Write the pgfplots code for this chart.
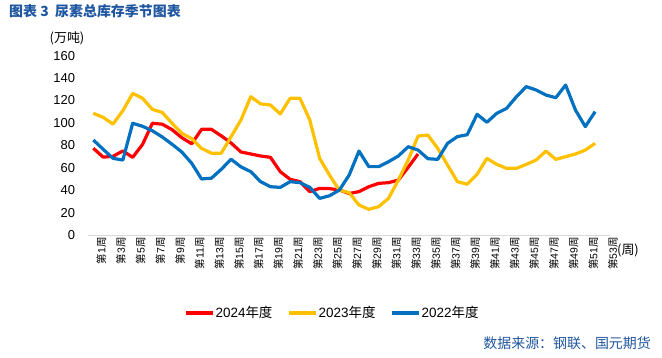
\documentclass[border=0pt]{standalone}
\usepackage{fontspec}
\setmainfont{Liberation Sans}
\newfontfamily\cjk{Noto Sans CJK SC}
\usepackage{pgfplots}
\pgfplotsset{compat=1.18}
\definecolor{c24}{RGB}{255,0,0}
\definecolor{c23}{RGB}{255,192,0}
\definecolor{c22}{RGB}{0,112,192}
\definecolor{ttl}{RGB}{31,86,160}
\newcommand{\wk}[1]{{\cjk 第}#1{\cjk 周}}
\begin{document}
\begin{tikzpicture}[x=1bp,y=1bp]
\useasboundingbox (0,0) rectangle (662,357);
\node[anchor=west, font=\cjk\bfseries\fontsize{14}{16}\selectfont, text=ttl, inner sep=0] at (9,346) {图表 3\ \ 尿素总库存季节图表};
\node[font=\cjk\fontsize{13}{15}\selectfont, inner sep=0] at (67,319) {(万吨)};
\node[font=\cjk\fontsize{13}{15}\selectfont, inner sep=0] at (628,107) {(周)};
\node[anchor=east, font=\cjk\fontsize{14}{16}\selectfont, text=ttl, inner sep=0] at (651,14) {数据来源：钢联、国元期货};
\begin{axis}[
  at={(88.4bp,122bp)}, anchor=south west, scale only axis,
  width=521.5bp, height=179.3bp,
  xmin=0.5, xmax=53.5, ymin=0, ymax=160,
  enlargelimits=false,
  axis lines=left,
  x axis line style={draw=black!15, line width=1pt, -},
  y axis line style={draw=none},
  tick style={draw=none},
  ytick={0,20,...,160},
  xtick={1,3,...,53},
  xticklabels={\wk{1},\wk{3},\wk{5},\wk{7},\wk{9},\wk{11},\wk{13},\wk{15},\wk{17},\wk{19},\wk{21},\wk{23},\wk{25},\wk{27},\wk{29},\wk{31},\wk{33},\wk{35},\wk{37},\wk{39},\wk{41},\wk{43},\wk{45},\wk{47},\wk{49},\wk{51},\wk{53}},
  /pgf/number format/assume math mode=true,
  yticklabel style={font=\fontsize{13}{15}\selectfont, anchor=east, inner sep=0pt, xshift=-11bp},
  xticklabel style={font=\fontsize{10.5}{12}\selectfont, rotate=90, anchor=east, inner sep=0pt, yshift=-8bp},
  clip=false,
  legend columns=3,
  legend style={at={(0.467,-0.435)}, anchor=center, draw=none, fill=none,
    font=\fontsize{13.5}{15}\selectfont, column sep=0bp,
    nodes={inner xsep=1.5bp},
    /tikz/every even column/.append style={column sep=13bp}},
  legend image code/.code={\draw[#1, line width=3.2bp] (0,0) -- (27bp,0);},
  every axis plot/.append style={line width=3.2bp, line join=round, no markers},
]
\addplot[c24] coordinates {(1,77.4)(2,69.5)(3,70.2)(4,75)(5,69.3)(6,80.8)(7,99.7)(8,98.9)(9,94)(10,86.8)(11,81.4)(12,94.3)(13,94.3)(14,88.5)(15,82.1)(16,74.1)(17,72.3)(18,70.5)(19,69.3)(20,56.5)(21,49.7)(22,47.6)(23,38.7)(24,41.6)(25,41.4)(26,40.2)(27,37)(28,38.7)(29,43.1)(30,46.1)(31,46.7)(32,49)(33,60.4)(34,72.3)};
\addlegendentry{2024{\cjk 年度}}
\addplot[c23] coordinates {(1,108.6)(2,105)(3,99)(4,110.9)(5,126.4)(6,122)(7,112.1)(8,109.4)(9,99.7)(10,90.7)(11,86)(12,77.3)(13,73)(14,73)(15,87.7)(16,102.6)(17,123.4)(18,117)(19,116)(20,108)(21,122)(22,122)(23,102.6)(24,68.4)(25,53.5)(26,40)(27,37.8)(28,26.8)(29,22.9)(30,25.3)(31,32.7)(32,49)(33,66.9)(34,88.3)(35,89.2)(36,77.3)(37,62.4)(38,47.6)(39,45.3)(40,54.1)(41,68.4)(42,63)(43,59.5)(44,59.5)(45,63)(46,66.9)(47,74.9)(48,67.5)(49,69.9)(50,72.3)(51,75.8)(52,81.8)};
\addlegendentry{2023{\cjk 年度}}
\addplot[c22] coordinates {(1,84.8)(2,76.5)(3,68.4)(4,66.9)(5,99.7)(6,97)(7,93)(8,87.5)(9,81)(10,74)(11,64)(12,50)(13,50.7)(14,58.6)(15,67.6)(16,60.8)(17,56.5)(18,47.6)(19,43.1)(20,42.5)(21,47.6)(22,46.7)(23,42.5)(24,32.7)(25,35)(26,40)(27,53.5)(28,74.9)(29,61)(30,61)(31,65.4)(32,70.5)(33,78.8)(34,75.8)(35,68.1)(36,67.5)(37,81.8)(38,87.8)(39,89.5)(40,107.7)(41,100.6)(42,108.6)(43,113)(44,123.4)(45,132.4)(46,129.4)(47,124.9)(48,122.5)(49,133.8)(50,111.5)(51,96.7)(52,110.1)};
\addlegendentry{2022{\cjk 年度}}
\end{axis}
\end{tikzpicture}
\end{document}
